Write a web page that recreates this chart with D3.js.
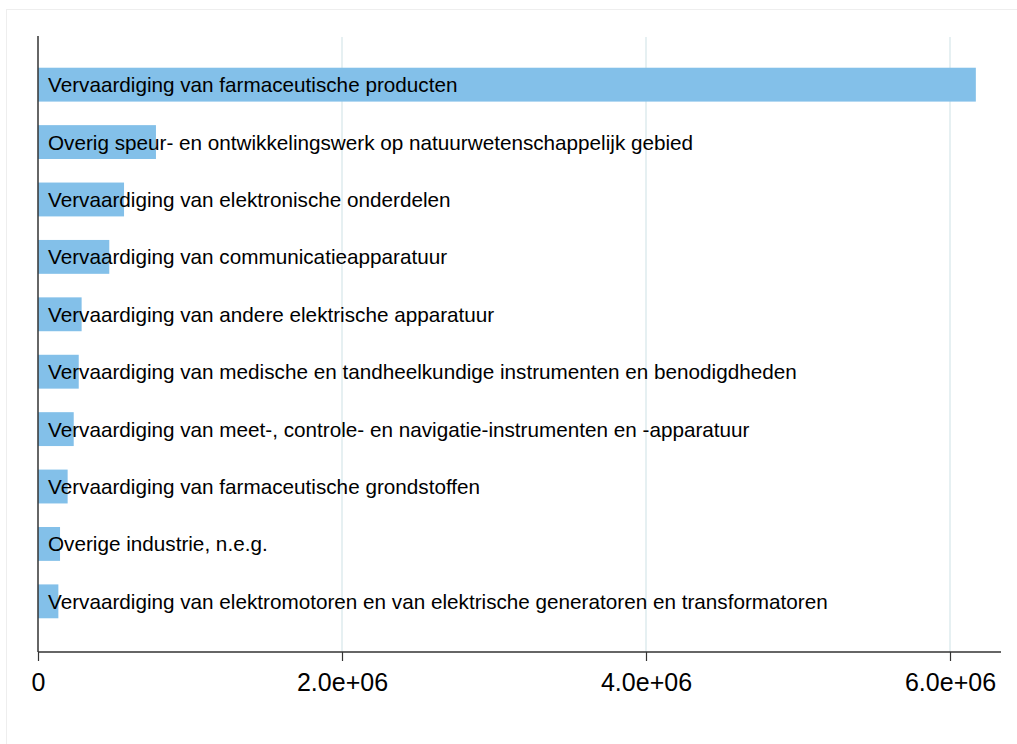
<!DOCTYPE html>
<html>
<head>
<meta charset="utf-8">
<script src="https://cdn.jsdelivr.net/npm/d3@7"></script>
<style>
  body { margin: 0; background: #fff; }
  svg { display: block; }
</style>
</head>
<body>
<div id="chart"></div>
<script>
// data
var categories = [
  "Vervaardiging van farmaceutische producten",
  "Overig speur- en ontwikkelingswerk op natuurwetenschappelijk gebied",
  "Vervaardiging van elektronische onderdelen",
  "Vervaardiging van communicatieapparatuur",
  "Vervaardiging van andere elektrische apparatuur",
  "Vervaardiging van medische en tandheelkundige instrumenten en benodigdheden",
  "Vervaardiging van meet-, controle- en navigatie-instrumenten en -apparatuur",
  "Vervaardiging van farmaceutische grondstoffen",
  "Overige industrie, n.e.g.",
  "Vervaardiging van elektromotoren en van elektrische generatoren en transformatoren"
]
var values = [6170000, 776000, 566000, 469000, 287000, 268000, 235000, 195000, 145000, 134000]
var tickValues = [0, 2000000, 4000000, 6000000]
var tickLabels = ["0", "2.0e+06", "4.0e+06", "6.0e+06"]

var width = 1017
var height = 744

var svg = d3.select("#chart")
  .append("svg")
    .attr("width", width)
    .attr("height", height)

// faint outer frame of the graph region
svg.append("rect")
  .attr("x", 6.5)
  .attr("y", 9.5)
  .attr("width", 1100)
  .attr("height", 800)
  .attr("fill", "none")
  .attr("stroke", "#eeeeee")

var x = d3.scaleLinear()
  .domain([0, 6000000])
  .range([38, 950])

var y = d3.scaleBand()
  .domain(categories)
  .range([35, 651])
  .paddingInner(0.41)
  .paddingOuter(0.57)

// vertical grid lines
svg.append("g")
  .selectAll("line")
  .data(tickValues.slice(1))
  .enter().append("line")
  .attr("x1", d => x(d))
  .attr("x2", d => x(d))
  .attr("y1", 37)
  .attr("y2", 652)
  .attr("stroke", "#e6f0f2")
  .attr("stroke-width", 2)

// bars
svg.append("g")
  .selectAll("rect")
  .data(values)
  .enter().append("rect")
  .attr("x", x(0))
  .attr("y", (d, i) => y(categories[i]))
  .attr("width", d => x(d) - x(0))
  .attr("height", y.bandwidth())
  .attr("fill", "#83c0e9")

// labels inside the bars
svg.append("g")
  .selectAll("text")
  .data(categories)
  .enter().append("text")
  .text(d => d)
  .attr("x", 48)
  .attr("y", d => y(d) + y.bandwidth() / 2)
  .attr("dy", "0.36em")
  .style("font-family", "Arial, 'Liberation Sans', sans-serif")
  .style("font-size", "20.7px")
  .style("fill", "#000")

// x axis
var xAxis = d3.axisBottom(x)
  .tickValues(tickValues)
  .tickFormat((d, i) => tickLabels[i])
  .tickSize(9)
  .tickSizeOuter(0)
  .tickPadding(12)

var gx = svg.append("g")
  .attr("transform", "translate(0,652)")
  .call(xAxis)

gx.select(".domain")
  .attr("d", "M38,0H1001")
  .attr("stroke", "#333")
  .attr("stroke-width", 1.5)
gx.selectAll(".tick line").attr("stroke", "#333").attr("stroke-width", 1.2)
gx.selectAll(".tick text")
  .style("font-family", "Arial, 'Liberation Sans', sans-serif")
  .style("font-size", "25px")
  .style("fill", "#000")

// y axis line
svg.append("line")
  .attr("x1", 38)
  .attr("x2", 38)
  .attr("y1", 36)
  .attr("y2", 652)
  .attr("stroke", "#333")
  .attr("stroke-width", 1.5)
</script>
</body>
</html>
